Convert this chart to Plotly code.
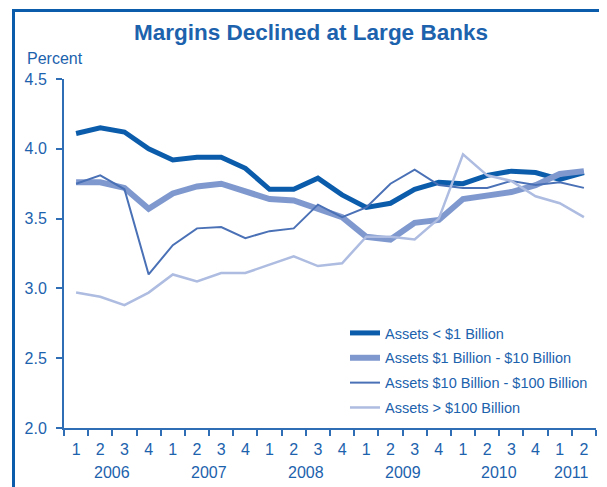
import plotly.graph_objects as go

quarters = ["1", "2", "3", "4"] * 5 + ["1", "2"]
years = ["2006", "2007", "2008", "2009", "2010", "2011"]
year_centers = [1.5, 5.5, 9.5, 13.5, 17.5, 20.5]

names = [
    "Assets < $1 Billion",
    "Assets $1 Billion - $10 Billion",
    "Assets $10 Billion - $100 Billion",
    "Assets > $100 Billion",
]
s_small = [4.11, 4.15, 4.12, 4.00, 3.92, 3.94, 3.94, 3.86, 3.71, 3.71, 3.79,
           3.67, 3.58, 3.61, 3.71, 3.76, 3.75, 3.81, 3.84, 3.83, 3.78, 3.83]
s_mid = [3.76, 3.76, 3.72, 3.57, 3.68, 3.73, 3.75, 3.70, 3.64, 3.63, 3.57,
         3.51, 3.37, 3.35, 3.47, 3.49, 3.64, 3.66, 3.69, 3.74, 3.82, 3.84]
s_large = [3.75, 3.81, 3.71, 3.10, 3.31, 3.43, 3.44, 3.36, 3.41, 3.43, 3.60,
           3.51, 3.58, 3.75, 3.85, 3.74, 3.72, 3.72, 3.77, 3.74, 3.76, 3.72]
s_huge = [2.97, 2.94, 2.88, 2.97, 3.10, 3.05, 3.11, 3.11, 3.17, 3.23, 3.16,
          3.18, 3.37, 3.37, 3.35, 3.50, 3.96, 3.81, 3.77, 3.66, 3.61, 3.51]
series = [s_small, s_mid, s_large, s_huge]

colors = ["#0B5CAB", "#7F99CF", "#4A71B6", "#ADBCE0"]
widths = [5, 6, 2, 2.5]
TXT = "#1C62AD"
AX = "#2F6DB5"
FONT = "Liberation Sans, Arial, sans-serif"

x = list(range(len(quarters)))

fig = go.Figure()
for i, (nm, s) in enumerate(zip(names, series)):
    fig.add_trace(go.Scatter(
        x=x, y=s, mode="lines", name=nm, legendgroup=f"g{i}",
        line=dict(color=colors[i], width=widths[i]),
    ))

OFF = 8  # page body margin
W, H = 607 - OFF, 487 - OFF
# plot area in page pixels: x 64..596, y 79..428
L = 64 - OFF
T = 79 - OFF
R = W - (596 - OFF)
B = H - (428 - OFF)
pw, ph = W - L - R, H - T - B

def px(xp):  # page pixel -> paper x
    return (xp - OFF - L) / pw

def py(yp):  # page pixel -> paper y
    return (H - B - (yp - OFF)) / ph

fig.update_layout(
    width=W, height=H,
    margin=dict(l=L, r=R, t=T, b=B, pad=0),
    paper_bgcolor="white", plot_bgcolor="white",
    font=dict(family=FONT, color=TXT, size=16),
    title=dict(text="<b>Margins Declined at Large Banks</b>",
               font=dict(family=FONT, size=22.5, color=TXT),
               x=(311 - OFF) / W, xref="container", xanchor="center",
               y=1 - (32 - OFF) / H, yref="container", yanchor="middle"),
    showlegend=True,
    legend=dict(x=px(345), y=py(317), xanchor="left", yanchor="top",
                font=dict(family=FONT, size=14.5, color=TXT),
                bgcolor="rgba(0,0,0,0)", tracegroupgap=3,
                itemwidth=30),
    xaxis=dict(range=[-0.5, len(quarters) - 0.5], tickmode="array",
               tickvals=x, ticktext=quarters, ticks="", showgrid=False,
               zeroline=False, showline=True, linecolor=AX, linewidth=2,
               tickfont=dict(size=16, color=TXT), ticklabelstandoff=6,
               minor=dict(tickmode="array",
                          tickvals=[v - 0.5 for v in range(len(quarters) + 1)],
                          ticks="outside", ticklen=6, tickwidth=1.5,
                          tickcolor=AX, showgrid=False)),
    yaxis=dict(range=[2.0, 4.5], tickmode="array",
               tickvals=[2.0, 2.5, 3.0, 3.5, 4.0, 4.5],
               ticktext=["2.0", "2.5", "3.0", "3.5", "4.0", "4.5"],
               ticks="outside", ticklen=6, tickwidth=1.5, tickcolor=AX,
               showgrid=False, zeroline=False, showline=True, linecolor=AX,
               linewidth=2, tickfont=dict(size=16, color=TXT),
               ticklabelstandoff=6),
)

for yr, xc in zip(years, year_centers):
    fig.add_annotation(x=xc, y=py(472), xref="x", yref="paper", text=yr,
                       showarrow=False, xanchor="center", yanchor="middle",
                       font=dict(size=16, color=TXT))

fig.add_annotation(x=px(25), y=py(59), xref="paper", yref="paper",
                   text="Percent", showarrow=False, xanchor="left",
                   yanchor="middle", font=dict(size=16, color=TXT))

FR = "#0B5CAB"
fig.add_shape(type="line", xref="paper", yref="paper",
              x0=px(13.5), x1=px(13.5), y0=py(495), y1=py(9),
              line=dict(color=FR, width=3))
fig.add_shape(type="line", xref="paper", yref="paper",
              x0=px(12), x1=px(615), y0=py(10.5), y1=py(10.5),
              line=dict(color=FR, width=3))

fig.write_html("out.html")
